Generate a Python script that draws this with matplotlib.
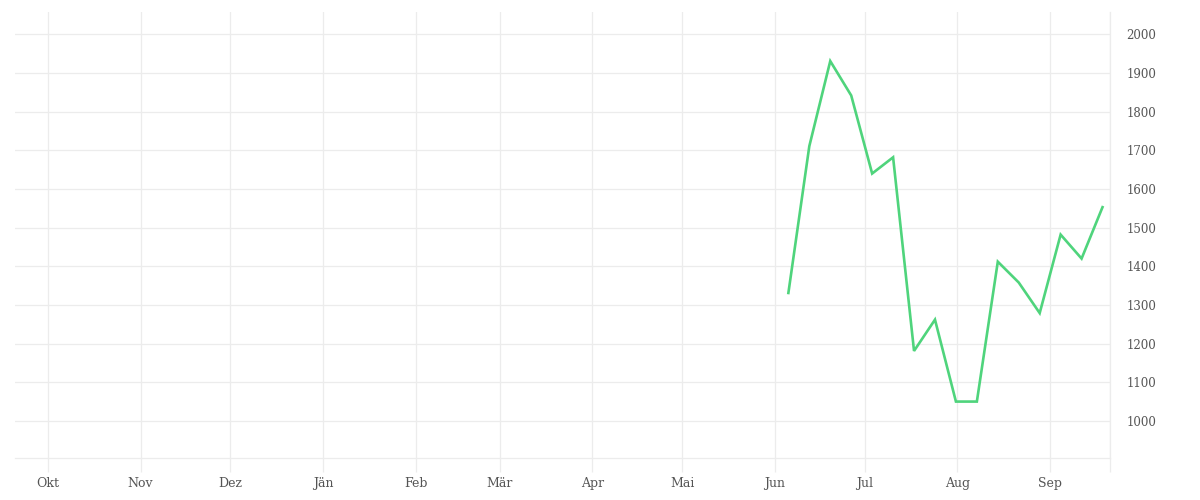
import matplotlib
matplotlib.use('Agg')
import matplotlib.pyplot as plt
import datetime as dt

# weekly values, Jun - Sep
start = dt.datetime(2023, 6, 5, 12)
values = [1331, 1711, 1931, 1842, 1640, 1682, 1181, 1262,
          1050, 1050, 1412, 1358, 1279, 1482, 1420, 1553]
dates = [start + dt.timedelta(weeks=i) for i in range(len(values))]

month_ticks = [dt.date(2022, 10, 1), dt.date(2022, 11, 1), dt.date(2022, 12, 1),
               dt.date(2023, 1, 1), dt.date(2023, 2, 1), dt.date(2023, 3, 1),
               dt.date(2023, 4, 1), dt.date(2023, 5, 1), dt.date(2023, 6, 1),
               dt.date(2023, 7, 1), dt.date(2023, 8, 1), dt.date(2023, 9, 1)]
month_labels = ['Okt', 'Nov', 'Dez', 'Jän', 'Feb', 'Mär', 'Apr', 'Mai',
                'Jun', 'Jul', 'Aug', 'Sep']
y_ticks = [1000, 1100, 1200, 1300, 1400, 1500, 1600, 1700, 1800, 1900, 2000]

grid_col = '#ececec'
text_col = '#555555'
plt.rcParams['font.family'] = ['DejaVu Serif']

fig = plt.figure(figsize=(12, 5), dpi=100)
ax = fig.add_axes([0.0125, 0.084, 0.9125, 0.892])

ax.plot(dates, values, color='#4fd47c', lw=1.9, solid_joinstyle='miter')

x0, x1 = dt.date(2022, 9, 20), dt.date(2023, 9, 21)
ax.set_xlim(x0, x1)
ax.set_ylim(904, 2058)

ax.set_xticks(month_ticks + [x1])
ax.set_xticklabels(month_labels + [''])
ax.set_yticks(y_ticks)
ax.yaxis.tick_right()

ax.grid(True, color=grid_col, lw=0.9)
ax.tick_params(axis='x', length=10, color=grid_col, width=0.9, pad=4,
               labelsize=9, labelcolor=text_col)
ax.tick_params(axis='y', length=0, pad=12, labelsize=8.5, labelcolor=text_col)
for lbl in ax.get_yticklabels():
    lbl.set_horizontalalignment('left')

for s in ['top', 'left']:
    ax.spines[s].set_visible(False)
ax.spines['bottom'].set_color(grid_col)
ax.spines['right'].set_color(grid_col)
ax.spines['bottom'].set_linewidth(0.9)
ax.spines['right'].set_linewidth(0.9)

fig.savefig('out.png', dpi=100)
